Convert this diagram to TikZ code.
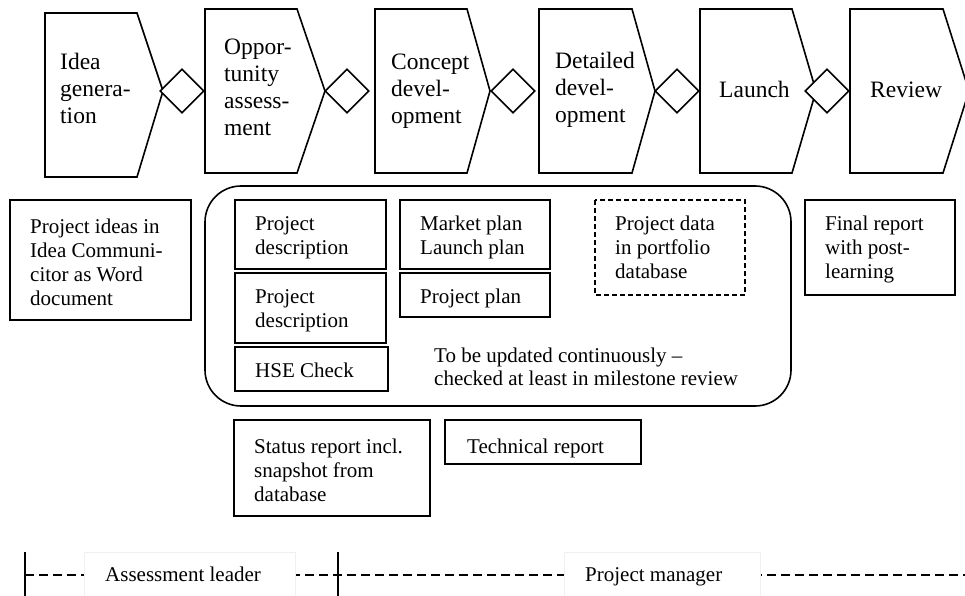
\documentclass[tikz,border=0pt]{standalone}
\usepackage{fontspec}
\setmainfont{Liberation Serif}
\usetikzlibrary{shapes.geometric}
\newcommand\mylines[1]{\begin{tabular}[t]{@{}l@{}}#1\end{tabular}}
\tikzset{
  stagebox/.style={draw=black, line width=1.6pt, line join=miter},
  gate/.style={shape=diamond, draw=black, fill=white, line width=1.6pt, minimum width=44pt, minimum height=44pt, inner sep=0pt},
  stagetext/.style={anchor=base west, inner sep=0pt, font=\fontsize{23.5}{26.8}\selectfont},
  doc/.style={draw=black, line width=1.6pt},
  doctext/.style={anchor=base west, inner sep=0pt, font=\fontsize{21}{24}\selectfont},
  rolebox/.style={fill=white, draw=black!6, line width=0.6pt},
  roleline/.style={line width=1.6pt, dash pattern=on 9pt off 5pt}
}
\begin{document}
\begin{tikzpicture}[x=1pt,y=-1pt]
\useasboundingbox (0,0) rectangle (965,596);
% stages
\draw[stagebox] (45,13) -- (137,13) -- (163,91) -- (137,177) -- (45,177) -- cycle;
\draw[stagebox] (205,9) -- (297,9) -- (325,91) -- (297,173) -- (205,173) -- cycle;
\draw[stagebox] (375,9) -- (467,9) -- (490,91) -- (467,173) -- (375,173) -- cycle;
\draw[stagebox] (539,9) -- (632,9) -- (655,91) -- (632,173) -- (539,173) -- cycle;
\draw[stagebox] (700,9) -- (792,9) -- (816,91) -- (792,173) -- (700,173) -- cycle;
\draw[stagebox] (850,9) -- (943,9) -- (969,91) -- (943,173) -- (850,173) -- cycle;
% gates
\node[gate] (g1) at (182,91) {};
\node[gate] (g2) at (347,91) {};
\node[gate] (g3) at (513,91) {};
\node[gate] (g4) at (677,91) {};
\node[gate] (g5) at (827,91) {};
% stage labels
\node[stagetext] (t1) at (60,70) {\mylines{Idea\\genera-\\tion}};
\node[stagetext] (t2) at (224,55) {\mylines{Oppor-\\tunity\\assess-\\ment}};
\node[stagetext] (t3) at (391,70) {\mylines{Concept\\devel-\\opment}};
\node[stagetext] (t4) at (555,69) {\mylines{Detailed\\devel-\\opment}};
\node[stagetext] (t5) at (719,98) {Launch};
\node[stagetext] (t6) at (870,98) {Review};
% documents
\draw[doc] (10,200) rectangle (191,320);
\node[doctext] (ideas) at (30,233) {\mylines{Project ideas in\\Idea Communi-\\citor as Word\\document}};
\draw[doc, rounded corners=36pt] (205,186) rectangle (791,406);
\draw[doc] (235,200) rectangle (386,269);
\node[doctext] (pd1) at (255,230) {\mylines{Project\\description}};
\draw[doc] (235,273) rectangle (386,343);
\node[doctext] (pd2) at (255,303) {\mylines{Project\\description}};
\draw[doc] (235,347) rectangle (388,391);
\node[doctext] (hse) at (255,377) {HSE Check};
\draw[doc] (400,200) rectangle (550,269);
\node[doctext] (mp) at (420,230) {\mylines{Market plan\\Launch plan}};
\draw[doc] (400,273) rectangle (550,317);
\node[doctext] (pp) at (420,303) {Project plan};
\draw[doc, dashed, dash pattern=on 5pt off 3pt] (595,200) rectangle (745,295);
\node[doctext] (pdata) at (615,230) {\mylines{Project data\\in portfolio\\database}};
\node[doctext, font=\fontsize{21}{23}\selectfont] (note) at (434,362) {\mylines{To be updated continuously --\\checked at least in milestone review}};
\draw[doc] (805,200) rectangle (955,295);
\node[doctext] (final) at (825,230) {\mylines{Final report\\with post-\\learning}};
\draw[doc] (234,420) rectangle (430,516);
\node[doctext] (status) at (254,453) {\mylines{Status report incl.\\snapshot from\\database}};
\draw[doc] (445,420) rectangle (641,464);
\node[doctext] (tech) at (467,453) {Technical report};
% roles
\draw[roleline] (25,575) -- (965,575);
\draw[line width=1.6pt] (25,552) -- (25,596);
\draw[line width=1.6pt] (338,552) -- (338,596);
\draw[rolebox] (84,552) rectangle (295,597);
\node[doctext] (al) at (105,581) {Assessment leader};
\draw[rolebox] (564,552) rectangle (760,597);
\node[doctext] (pm) at (585,581) {Project manager};
\end{tikzpicture}
\end{document}
